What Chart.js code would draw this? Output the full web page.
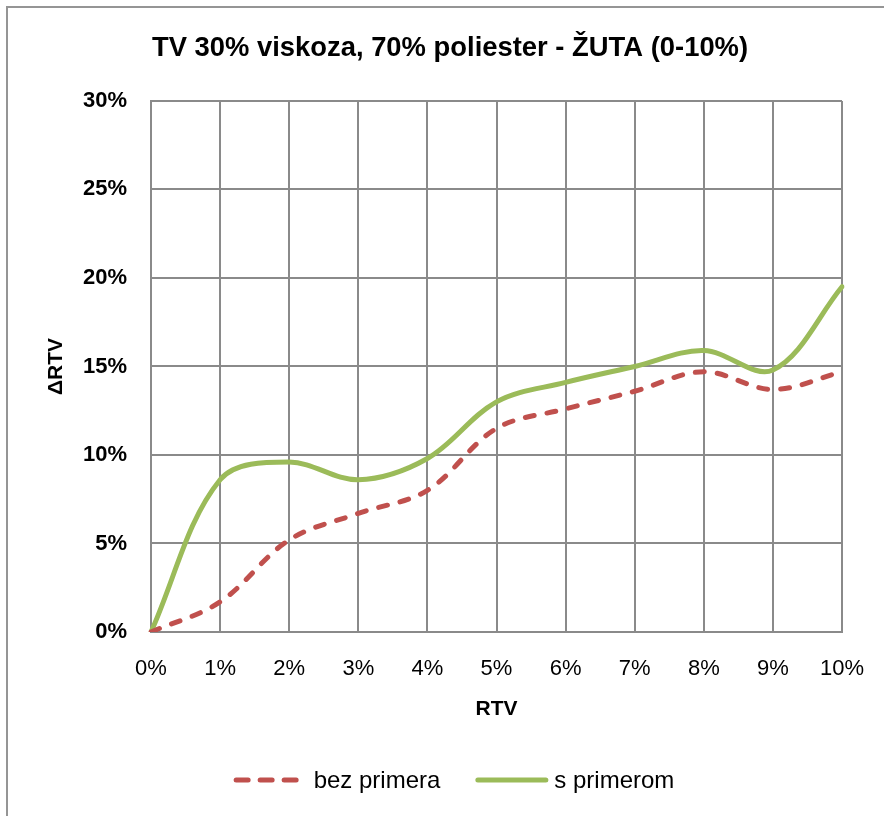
<!DOCTYPE html>
<html>
<head>
<meta charset="utf-8">
<script src="https://cdn.jsdelivr.net/npm/chart.js@4/dist/chart.umd.min.js"></script>
<style>
  html, body { margin: 0; padding: 0; background: #fff; }
  #wrap { width: 884px; height: 816px; }
</style>
</head>
<body>
<div id="wrap"><canvas id="chart" width="884" height="816"></canvas></div>
<script>
// RTV categories on x, ΔRTV in percent on y
const categories = ['0%', '1%', '2%', '3%', '4%', '5%', '6%', '7%', '8%', '9%', '10%'];
const yTickLabels = ['0%', '5%', '10%', '15%', '20%', '25%', '30%'];
const bezPrimera = [0, 1.7, 5.2, 6.7, 8.0, 11.5, 12.6, 13.6, 14.7, 13.7, 14.7];
const sPrimerom = [0, 8.6, 9.6, 8.6, 9.8, 13.0, 14.1, 15.0, 15.9, 14.8, 19.5];

const FONT = "'Liberation Sans', Arial, sans-serif";
const RED = '#C0504D';
const GREEN = '#9BBB59';
const GRID = '#8a8a8a';

// gray frame of the chart area (only left and top edges are on screen)
const frame = {
  id: 'frame',
  beforeDraw(chart) {
    const c = chart.ctx;
    c.save();
    c.strokeStyle = '#959595';
    c.lineWidth = 2;
    c.beginPath();
    c.moveTo(7, chart.height);
    c.lineTo(7, 7);
    c.lineTo(chart.width, 7);
    c.stroke();
    c.restore();
  }
};

// legend row under the axis title
const legendKeys = [
  { sample: 65, gap: 15, dash: [12, 12] },
  { sample: 73, gap: 6, dash: [] }
];
const lineLegend = {
  id: 'lineLegend',
  afterDraw(chart) {
    const c = chart.ctx;
    const y = 780;
    const gapItem = 35;
    c.save();
    c.font = '24px ' + FONT;
    c.textBaseline = 'middle';
    const items = chart.data.datasets.map((ds, i) => ({ ds, key: legendKeys[i], w: c.measureText(ds.label).width }));
    const total = items.reduce((s, it) => s + it.key.sample + it.key.gap + it.w, 0) + gapItem * (items.length - 1);
    let x = 454 - total / 2;
    items.forEach(it => {
      const lw = it.ds.borderWidth;
      c.strokeStyle = it.ds.borderColor;
      c.lineWidth = lw;
      c.lineCap = 'round';
      c.setLineDash(it.key.dash);
      c.beginPath();
      c.moveTo(x + lw / 2, y);
      c.lineTo(x + it.key.sample - lw / 2, y);
      c.stroke();
      c.setLineDash([]);
      c.fillStyle = '#000';
      c.fillText(it.ds.label, x + it.key.sample + it.key.gap, y + 1);
      x += it.key.sample + it.key.gap + it.w + gapItem;
    });
    c.restore();
  }
};

new Chart(document.getElementById('chart'), {
  type: 'line',
  data: {
    labels: categories,
    datasets: [
      {
        label: 'bez primera',
        data: bezPrimera,
        borderColor: RED,
        borderWidth: 5,
        borderDash: [9, 13],
        borderCapStyle: 'round',
        pointRadius: 0,
        tension: 0.35
      },
      {
        label: 's primerom',
        data: sPrimerom,
        borderColor: GREEN,
        borderWidth: 5,
        borderCapStyle: 'round',
        pointRadius: 0,
        tension: 0.35
      }
    ]
  },
  options: {
    responsive: false,
    animation: false,
    devicePixelRatio: 1,
    layout: { padding: { left: 58, right: 42, top: 0, bottom: 94 } },
    plugins: {
      legend: { display: false },
      tooltip: { enabled: false },
      title: {
        display: true,
        text: 'TV 30% viskoza, 70% poliester - ŽUTA (0-10%)',
        color: '#000',
        font: { family: FONT, size: 27.4, weight: 'bold' },
        padding: { top: 32, bottom: 36 }
      }
    },
    scales: {
      x: {
        grid: { color: GRID, lineWidth: 2, drawTicks: false },
        border: { color: GRID, width: 2 },
        ticks: {
          color: '#000',
          padding: 24,
          maxRotation: 0,
          autoSkip: false,
          font: { family: FONT, size: 22 }
        },
        title: {
          display: true,
          text: 'RTV',
          color: '#000',
          font: { family: FONT, size: 21, weight: 'bold' },
          padding: { top: 0, bottom: 0 }
        },
        afterFit(scale) {
          scale.height = 90;
          // the "10%" label may hang into the right margin
          scale.paddingLeft = 0;
          scale.paddingRight = 0;
        }
      },
      y: {
        min: 0,
        max: 30,
        grid: { color: GRID, lineWidth: 2, drawTicks: false },
        border: { color: GRID, width: 2 },
        ticks: {
          stepSize: 5,
          color: '#000',
          padding: 24,
          font: { family: FONT, size: 22, weight: 'bold' },
          callback: (v, i) => yTickLabels[i]
        },
        title: {
          display: true,
          text: 'ΔRTV',
          color: '#000',
          font: { family: FONT, size: 21, weight: 'bold' },
          padding: { top: -14, bottom: 0 }
        },
        afterFit(scale) { scale.width = 93; }
      }
    }
  },
  plugins: [frame, lineLegend]
});
</script>
</body>
</html>
